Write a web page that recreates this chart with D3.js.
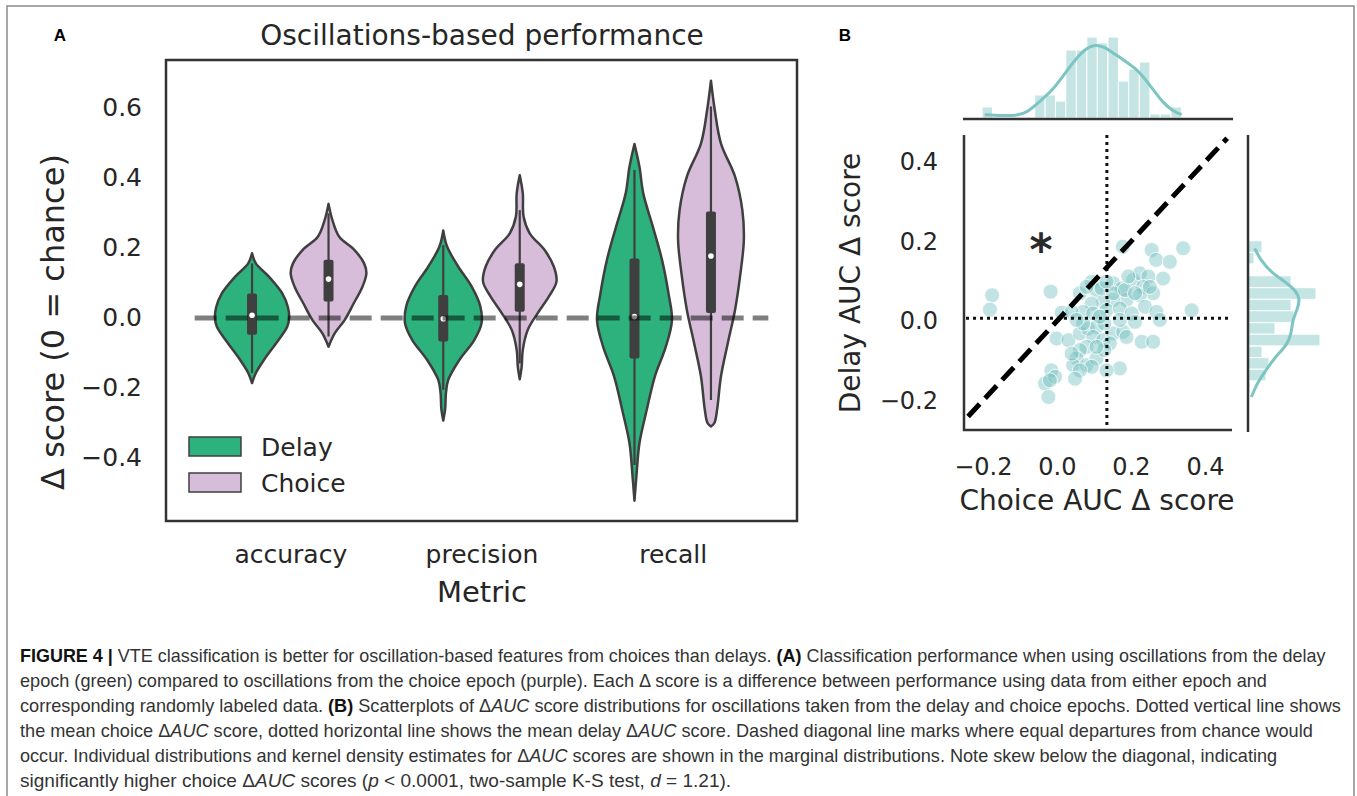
<!DOCTYPE html>
<html>
<head>
<meta charset="utf-8">
<script src="https://cdn.jsdelivr.net/npm/d3@7"></script>
<style>
  body { margin: 0; background: #fff; }
  svg { display: block; }
</style>
</head>
<body>
<div id="chart"></div>
<script>
// ---- data ----

// panel A: metrics and epochs
const metrics = ['accuracy', 'precision', 'recall'];
const epochs = ['Delay', 'Choice'];
const epochColors = {Delay: '#2db27d', Choice: '#d7bdd9'};

// violin outlines: [score, relative half-width]
const violinProfiles = {
    'accuracy|Delay': [[0.185,0],[0.156,0.1],[0.118,0.44],[0.07,0.79],[0.03,0.94],[0.0,0.97],[-0.025,0.92],[-0.072,0.63],[-0.12,0.31],[-0.157,0.1],[-0.186,0]],
    'accuracy|Choice': [[0.326,0],[0.28,0.1],[0.232,0.28],[0.194,0.68],[0.156,0.93],[0.128,0.99],[0.09,0.89],[0.042,0.66],[-0.006,0.42],[-0.044,0.16],[-0.082,0]],
    'precision|Delay': [[0.25,0],[0.204,0.1],[0.147,0.39],[0.09,0.74],[0.033,0.97],[-0.015,1.0],[-0.063,0.81],[-0.12,0.42],[-0.177,0.13],[-0.215,0.07],[-0.26,0.05],[-0.293,0]],
    'precision|Choice': [[0.408,0],[0.356,0.08],[0.29,0.1],[0.242,0.26],[0.194,0.65],[0.147,0.89],[0.104,0.96],[0.061,0.76],[0.014,0.47],[-0.034,0.21],[-0.091,0.08],[-0.14,0.05],[-0.175,0]],
    'recall|Delay': [[0.497,0],[0.432,0.13],[0.356,0.23],[0.261,0.48],[0.166,0.72],[0.07,0.89],[-0.006,0.98],[-0.082,0.82],[-0.168,0.53],[-0.263,0.32],[-0.358,0.13],[-0.453,0.05],[-0.522,0]],
    'recall|Choice': [[0.678,0],[0.594,0.1],[0.499,0.26],[0.404,0.63],[0.309,0.82],[0.223,0.86],[0.118,0.76],[0.023,0.63],[-0.072,0.44],[-0.168,0.26],[-0.263,0.16],[-0.3,0.09],[-0.31,0]]
};

// inner box plots: [whisker low, q1, median, q3, whisker high]
const boxStats = {
    'accuracy|Delay': [-0.157, -0.048, 0.008, 0.07, 0.156],
    'accuracy|Choice': [-0.053, 0.047, 0.111, 0.166, 0.299],
    'precision|Delay': [-0.205, -0.067, -0.002, 0.066, 0.208],
    'precision|Choice': [-0.13, 0.018, 0.096, 0.156, 0.308],
    'recall|Delay': [-0.42, -0.116, 0.004, 0.17, 0.423],
    'recall|Choice': [-0.234, 0.014, 0.177, 0.304, 0.604]
};
const yTicksA = [-0.4, -0.2, 0.0, 0.2, 0.4, 0.6];

// panel B: per-session AUC delta scores
const choiceAUC = [-0.175,-0.181,-0.017,0.013,0.178,0.256,0.268,0.341,0.305,0.094,0.062,0.107,0.152,0.175,0.206,0.224,0.247,0.287,0.233,0.260,
    0.224,0.188,0.152,0.125,0.094,0.071,0.040,0.098,0.134,0.170,0.202,0.238,0.269,0.278,0.211,0.364,-0.001,0.031,0.062,0.084,
    0.107,0.098,0.125,0.152,0.179,0.143,0.080,0.062,0.053,0.044,0.080,0.107,0.128,0.229,0.260,0.170,0.134,0.094,0.062,0.049,
    -0.015,-0.032,-0.005,-0.023,0.121,0.152,0.184,0.211,0.170,0.128,0.071,0.080,0.134,0.193,0.251,0.116,0.053,0.188,0.107,0.040,-0.019];
const delayAUC = [0.065,0.029,0.074,0.021,0.187,0.179,0.154,0.183,0.149,0.099,0.070,0.078,0.095,0.082,0.103,0.120,0.112,0.107,0.086,0.070,
    0.065,0.053,0.053,0.049,0.044,0.023,0.023,0.019,0.027,0.032,0.019,0.036,0.023,0.003,-0.002,0.027,-0.044,-0.048,-0.031,-0.019,
    -0.015,-0.040,-0.048,-0.031,-0.027,-0.056,-0.065,-0.073,-0.094,-0.111,-0.111,-0.094,-0.073,-0.052,-0.052,-0.119,-0.124,-0.115,-0.124,-0.145,
    -0.124,-0.157,-0.140,-0.191,0.082,0.070,0.078,0.070,0.003,-0.006,-0.006,0.086,0.099,0.112,0.086,0.011,0.003,-0.040,-0.065,-0.082,-0.149];
const meanChoice = 0.135;
const meanDelay = 0.007;
const diagonalRange = [-0.24, 0.46];
const ticksB = [-0.2, 0.0, 0.2, 0.4];

// marginal histograms (density) and kde curves
const choiceBinStarts = [-0.202,-0.174,-0.145,-0.117,-0.089,-0.060,-0.032,-0.004,0.024,0.053,0.081,0.109,0.138,0.166,0.194,0.223,0.251,0.279,0.308];
const choiceBinWidth = 0.0283;
const choiceHist = [0.69,0,0,0,0,1.44,1.44,1.06,4.25,4.25,5.06,4.69,5.06,2.31,3.06,3.5,0.25,0.25,0.69];
const choiceKde = [[-0.195,0.21],[-0.154,0.15],[-0.109,0.15],[-0.082,0.31],[-0.046,1.04],[-0.010,1.77],[0.026,2.92],[0.053,3.75],[0.080,4.38],
    [0.103,4.58],[0.125,4.48],[0.152,4.06],[0.179,3.65],[0.211,3.13],[0.233,2.6],[0.260,1.77],[0.287,0.94],[0.314,0.42],[0.337,0.21]];
const delayBinTops = [0.202,0.173,0.143,0.114,0.084,0.055,0.026,-0.004,-0.033,-0.063,-0.092,-0.121,-0.151,-0.180];
const delayBinWidth = 0.0294;
const delayHist = [0.875,0.375,0.06,2.69,4.25,2.69,2.875,1.69,4.5,0.875,1.31,1.125,0.125,0.06];
const delayKde = [[0.183,0.42],[0.154,0.77],[0.120,1.5],[0.099,2.33],[0.078,2.96],[0.053,3.27],[0.028,3.06],[0.003,2.79],[-0.031,2.71],
    [-0.060,2.44],[-0.081,1.92],[-0.107,1.40],[-0.132,0.98],[-0.157,0.56],[-0.191,0.21]];

// caption lines: [text, style]
const captionLines = [
    [['FIGURE 4 | ','b'],['VTE classification is better for oscillation-based features from choices than delays. ',''],['(A)','b'],[' Classification performance when using oscillations from the delay','']],
    [['epoch (green) compared to oscillations from the choice epoch (purple). Each \u0394 score is a difference between performance using data from either epoch and','']],
    [['corresponding randomly labeled data. ',''],['(B)','b'],[' Scatterplots of \u0394',''],['AUC','i'],[' score distributions for oscillations taken from the delay and choice epochs. Dotted vertical line shows','']],
    [['the mean choice \u0394',''],['AUC','i'],[' score, dotted horizontal line shows the mean delay \u0394',''],['AUC','i'],[' score. Dashed diagonal line marks where equal departures from chance would','']],
    [['occur. Individual distributions and kernel density estimates for \u0394',''],['AUC','i'],[' scores are shown in the marginal distributions. Note skew below the diagonal, indicating','']],
    [['significantly higher choice \u0394',''],['AUC','i'],[' scores (',''],['p','i'],[' < 0.0001, two-sample K-S test, ',''],['d','i'],[' = 1.21).','']]
];
const captionEnds = [1327, 1268, 1342, 1314, 1278, 732];

// ---- drawing ----
const W = 1357, H = 796;
const FONT = "'DejaVu Sans', sans-serif";
const ink = '#3f3f3f';
const labelInk = '#262626';

const svg = d3.select('#chart').append('svg')
    .attr('width', W)
    .attr('height', H);

// outer figure frame
svg.append('rect')
    .attr('x', 7).attr('y', 6)
    .attr('width', 1347).attr('height', 820)
    .attr('fill', 'none')
    .attr('stroke', '#8a8a8a')
    .attr('stroke-width', 1.5);

// ===== panel A =====
const xA = d3.scaleLinear().domain([-0.65, 2.65]).range([166, 797]);
const yA = d3.scaleLinear().domain([-0.58, 0.737]).range([521, 60]);
const dodge = {Delay: -0.2, Choice: 0.2};
const halfWidth = d3.scaleLinear().domain([0, 1]).range([0, xA(0.2) - xA(0)]);

const gA = svg.append('g');

svg.append('text')
    .attr('x', 60).attr('y', 41)
    .attr('text-anchor', 'middle')
    .style('font-family', "'Liberation Sans', Arial, sans-serif")
    .style('font-weight', 'bold')
    .style('font-size', '17px')
    .text('A');

gA.append('text')
    .attr('x', 482).attr('y', 45)
    .attr('text-anchor', 'middle')
    .style('font-family', FONT)
    .style('font-size', '28px')
    .attr('fill', labelInk)
    .text('Oscillations-based performance');

const violinArea = d3.area()
    .curve(d3.curveCatmullRom.alpha(0.5))
    .y(d => yA(d[0]));

metrics.forEach((m, i) => {
    epochs.forEach(e => {
        const key = m + '|' + e;
        const cx = xA(i + dodge[e]);
        violinArea.x0(d => cx - halfWidth(d[1])).x1(d => cx + halfWidth(d[1]));

        gA.append('path')
            .datum(violinProfiles[key])
            .attr('d', violinArea)
            .attr('fill', epochColors[e])
            .attr('stroke', ink)
            .attr('stroke-width', 2.5)
            .attr('stroke-linejoin', 'round');

        const s = boxStats[key];
        gA.append('line')
            .attr('x1', cx).attr('x2', cx)
            .attr('y1', yA(s[0])).attr('y2', yA(s[4]))
            .attr('stroke', ink)
            .attr('stroke-width', 2.2);
        gA.append('rect')
            .attr('x', cx - 5)
            .attr('width', 10)
            .attr('y', yA(s[3]))
            .attr('height', yA(s[1]) - yA(s[3]))
            .attr('rx', 2)
            .attr('fill', ink);
        gA.append('circle')
            .attr('cx', cx).attr('cy', yA(s[2]))
            .attr('r', 2.8)
            .attr('fill', '#fff');
    });
});

// chance line
gA.append('line')
    .attr('x1', xA(-0.5)).attr('x2', xA(2.5))
    .attr('y1', yA(0)).attr('y2', yA(0))
    .attr('stroke', '#000')
    .attr('stroke-opacity', 0.5)
    .attr('stroke-width', 5)
    .attr('stroke-dasharray', '22,9');

// frame
gA.append('rect')
    .attr('x', 166).attr('y', 60)
    .attr('width', 797 - 166).attr('height', 521 - 60)
    .attr('fill', 'none')
    .attr('stroke', '#333')
    .attr('stroke-width', 2.5);

// axes
const yAxisA = gA.append('g')
    .attr('transform', 'translate(166,0)')
    .call(d3.axisLeft(yA).tickValues(yTicksA).tickFormat(d3.format('.1f')).tickSize(0).tickPadding(24));
const xAxisA = gA.append('g')
    .attr('transform', 'translate(0,521)')
    .call(d3.axisBottom(xA).tickValues([0, 1, 2]).tickFormat(i => metrics[i]).tickSize(0).tickPadding(24));
[yAxisA, xAxisA].forEach(ax => {
    ax.select('.domain').remove();
    ax.selectAll('text')
        .style('font-family', FONT)
        .style('font-size', '25px')
        .attr('fill', labelInk);
});

gA.append('text')
    .attr('transform', 'translate(64,322) rotate(-90)')
    .attr('text-anchor', 'middle')
    .style('font-family', FONT)
    .style('font-size', '32px')
    .attr('fill', labelInk)
    .text('\u0394 score (0 = chance)');

gA.append('text')
    .attr('x', 482).attr('y', 602)
    .attr('text-anchor', 'middle')
    .style('font-family', FONT)
    .style('font-size', '29px')
    .attr('fill', labelInk)
    .text('Metric');

// legend
const legend = gA.append('g');
epochs.forEach((e, i) => {
    legend.append('rect')
        .attr('x', 189).attr('y', 437 + i * 36)
        .attr('width', 52).attr('height', 19)
        .attr('fill', epochColors[e])
        .attr('stroke', ink)
        .attr('stroke-width', 1.5);
    legend.append('text')
        .attr('x', 261).attr('y', 456 + i * 36)
        .style('font-family', FONT)
        .style('font-size', '25px')
        .attr('fill', labelInk)
        .text(e);
});

// ===== panel B =====
const xB = d3.scaleLinear().domain([-0.251, 0.473]).range([964, 1232]);
const yB = d3.scaleLinear().domain([-0.274, 0.468]).range([430, 135]);
const teal = '#6dbdbd';
const kdeColor = '#7cc5c2';

const gB = svg.append('g');

svg.append('text')
    .attr('x', 845).attr('y', 41)
    .attr('text-anchor', 'middle')
    .style('font-family', "'Liberation Sans', Arial, sans-serif")
    .style('font-weight', 'bold')
    .style('font-size', '17px')
    .text('B');

// scatter
gB.append('g')
    .selectAll('circle')
    .data(choiceAUC.map((c, i) => [c, delayAUC[i]]))
    .join('circle')
    .attr('cx', d => xB(d[0]))
    .attr('cy', d => yB(d[1]))
    .attr('r', 7.5)
    .attr('fill', teal)
    .attr('fill-opacity', 0.42)
    .attr('stroke', '#fff')
    .attr('stroke-opacity', 0.8)
    .attr('stroke-width', 1);

// mean lines
gB.append('line')
    .attr('x1', xB(meanChoice)).attr('x2', xB(meanChoice))
    .attr('y1', 135).attr('y2', 430)
    .attr('stroke', '#111').attr('stroke-width', 3)
    .attr('stroke-dasharray', '3,4');
gB.append('line')
    .attr('x1', 966).attr('x2', 1231)
    .attr('y1', yB(meanDelay)).attr('y2', yB(meanDelay))
    .attr('stroke', '#111').attr('stroke-width', 3)
    .attr('stroke-dasharray', '3,4');

// identity line
gB.append('line')
    .attr('x1', xB(diagonalRange[0])).attr('y1', yB(diagonalRange[0]))
    .attr('x2', xB(diagonalRange[1])).attr('y2', yB(diagonalRange[1]))
    .attr('stroke', '#000').attr('stroke-width', 5)
    .attr('stroke-dasharray', '17,8');

gB.append('text')
    .attr('x', 1041).attr('y', 265)
    .attr('text-anchor', 'middle')
    .style('font-family', FONT)
    .style('font-size', '44px')
    .style('font-weight', 'bold')
    .attr('fill', '#2a2a2a')
    .text('*');

// spines
gB.append('path')
    .attr('d', 'M964,135V430H1232')
    .attr('fill', 'none')
    .attr('stroke', '#333')
    .attr('stroke-width', 2.5);

const xAxisB = gB.append('g')
    .attr('transform', 'translate(0,430)')
    .call(d3.axisBottom(xB).tickValues(ticksB).tickFormat(d3.format('.1f')).tickSize(0).tickPadding(28));
const yAxisB = gB.append('g')
    .attr('transform', 'translate(964,0)')
    .call(d3.axisLeft(yB).tickValues(ticksB).tickFormat(d3.format('.1f')).tickSize(0).tickPadding(26));
[xAxisB, yAxisB].forEach(ax => {
    ax.select('.domain').remove();
    ax.selectAll('text')
        .style('font-family', FONT)
        .style('font-size', '24px')
        .attr('fill', labelInk);
});

gB.append('text')
    .attr('x', 1097).attr('y', 510)
    .attr('text-anchor', 'middle')
    .style('font-family', FONT)
    .style('font-size', '28px')
    .attr('fill', labelInk)
    .text('Choice AUC \u0394 score');

gB.append('text')
    .attr('transform', 'translate(860,283) rotate(-90)')
    .attr('text-anchor', 'middle')
    .style('font-family', FONT)
    .style('font-size', '28px')
    .attr('fill', labelInk)
    .text('Delay AUC \u0394 score');

// top marginal: choice
const yTop = d3.scaleLinear().domain([0, 5.5]).range([118, 30]);
const gTop = gB.append('g');
gTop.selectAll('rect')
    .data(choiceHist)
    .join('rect')
    .attr('x', (d, i) => xB(choiceBinStarts[i]))
    .attr('width', xB(choiceBinWidth) - xB(0))
    .attr('y', d => yTop(d))
    .attr('height', d => yTop(0) - yTop(d))
    .attr('fill', teal)
    .attr('fill-opacity', 0.4)
    .attr('stroke', '#fff')
    .attr('stroke-width', 1);
gTop.append('path')
    .datum(choiceKde)
    .attr('d', d3.line().curve(d3.curveBasis).x(d => xB(d[0])).y(d => yTop(d[1])))
    .attr('fill', 'none')
    .attr('stroke', kdeColor)
    .attr('stroke-width', 3);
gTop.append('line')
    .attr('x1', 963).attr('x2', 1233)
    .attr('y1', 119).attr('y2', 119)
    .attr('stroke', '#333').attr('stroke-width', 2.5);

// right marginal: delay
const xRight = d3.scaleLinear().domain([0, 5]).range([1248, 1328]);
const gRight = gB.append('g');
gRight.selectAll('rect')
    .data(delayHist)
    .join('rect')
    .attr('x', xRight(0))
    .attr('width', d => xRight(d) - xRight(0))
    .attr('y', (d, i) => yB(delayBinTops[i]))
    .attr('height', yB(0) - yB(delayBinWidth))
    .attr('fill', teal)
    .attr('fill-opacity', 0.4)
    .attr('stroke', '#fff')
    .attr('stroke-width', 1);
gRight.append('path')
    .datum(delayKde)
    .attr('d', d3.line().curve(d3.curveBasis).x(d => xRight(d[1])).y(d => yB(d[0])))
    .attr('fill', 'none')
    .attr('stroke', kdeColor)
    .attr('stroke-width', 3);
gRight.append('line')
    .attr('x1', 1248).attr('x2', 1248)
    .attr('y1', 135).attr('y2', 432)
    .attr('stroke', '#333').attr('stroke-width', 2.5);

// ===== caption =====
// the journal face is condensed, so each line is squeezed horizontally to its measured width
const cap = svg.append('g');
captionLines.forEach((segs, i) => {
    const t = cap.append('text')
        .attr('x', 0)
        .attr('y', 0)
        .style('font-family', "'Liberation Sans', Arial, sans-serif")
        .style('font-size', '18px')
        .attr('fill', '#333');
    segs.forEach(s => {
        t.append('tspan')
            .style('font-weight', s[1] === 'b' ? 'bold' : 'normal')
            .style('font-style', s[1] === 'i' ? 'italic' : 'normal')
            .attr('fill', s[1] === 'b' ? '#111' : '#333')
            .text(s[0]);
    });
    const natural = t.node().getComputedTextLength();
    const sx = (captionEnds[i] - 20) / natural;
    t.attr('transform', `translate(20,${662 + i * 25}) scale(${sx},1)`);
});
</script>
</body>
</html>
